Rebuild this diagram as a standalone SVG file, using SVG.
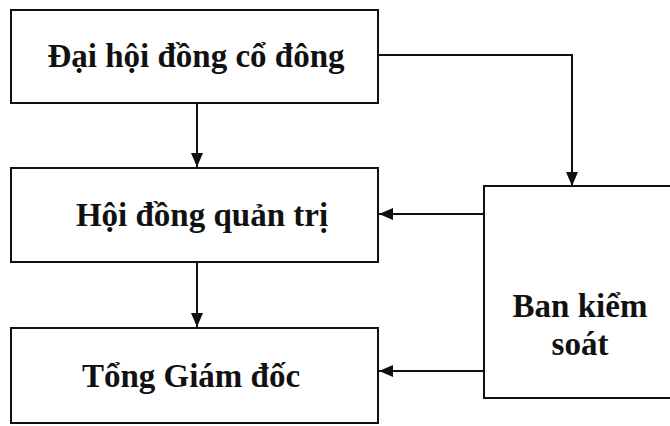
<svg xmlns="http://www.w3.org/2000/svg" width="670" height="426" viewBox="0 0 670 426">
<defs>
<style>
.box{fill:#fff;stroke:#111;stroke-width:2}
.t{font-family:"Liberation Serif","Times New Roman",serif;font-weight:bold;font-size:33px;fill:#111;text-anchor:middle}
.c{fill:none;stroke:#111;stroke-width:2}
</style>
<marker id="ah" markerWidth="14" markerHeight="12" refX="14" refY="6" orient="auto" markerUnits="userSpaceOnUse" viewBox="0 0 14 12">
<path d="M0,0 L14,6 L0,12 z" fill="#111"/>
</marker>
</defs>
<rect width="670" height="426" fill="#fff"/>
<g id="connectors">
<path class="c" d="M378,55 H572 V186" marker-end="url(#ah)"/>
<path class="c" d="M197,103 V167" marker-end="url(#ah)"/>
<path class="c" d="M197,262 V327" marker-end="url(#ah)"/>
<path class="c" d="M484,214 H379" marker-end="url(#ah)"/>
<path class="c" d="M484,371 H379" marker-end="url(#ah)"/>
</g>
<g id="dhdcd">
<rect class="box" x="11" y="10" width="367" height="93"/>
<text class="t" x="196" y="67">Đại hội đồng cổ đông</text>
</g>
<g id="hdqt">
<rect class="box" x="11" y="168" width="367" height="94"/>
<text class="t" x="202" y="226">Hội đồng quản trị</text>
</g>
<g id="tgd">
<rect class="box" x="11" y="328" width="367" height="95"/>
<text class="t" x="191" y="387">Tổng Giám đốc</text>
</g>
<g id="bks">
<rect class="box" x="484" y="186" width="190" height="212"/>
<text class="t" x="580" y="317">Ban kiểm</text>
<text class="t" x="580" y="355">soát</text>
</g>
</svg>
